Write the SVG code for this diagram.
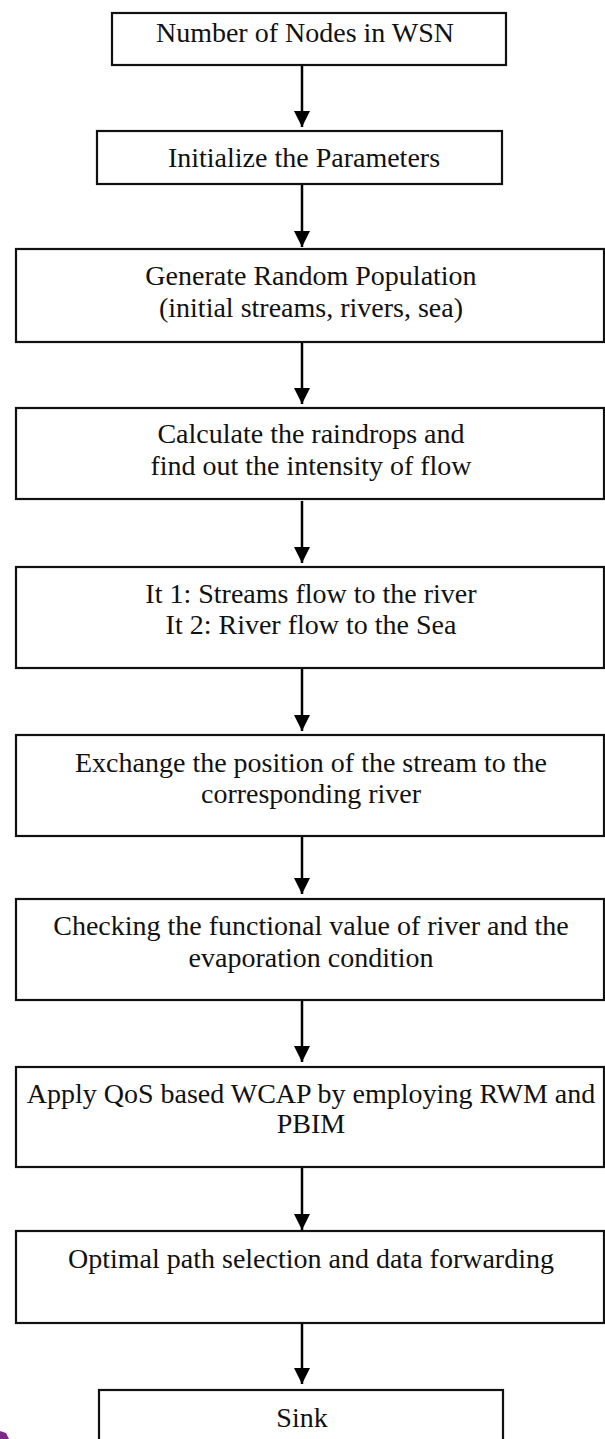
<svg xmlns="http://www.w3.org/2000/svg" width="605" height="1439" viewBox="0 0 605 1439">
<style>
.box{fill:#fff;stroke:#111;stroke-width:2.2}
.t{font-family:"Liberation Serif","Times New Roman",serif;font-size:28px;fill:#111;text-anchor:middle}
.c{stroke:#000;stroke-width:2.5;fill:none}
</style>
<defs>
<marker id="ah" markerUnits="userSpaceOnUse" markerWidth="16" markerHeight="16" viewBox="0 0 16 16" refX="16" refY="8" orient="auto">
<path d="M0,0 L16,8 L0,16 Z" fill="#000"/>
</marker>
</defs>
<rect width="605" height="1439" fill="#fff"/>
<g id="connectors">
<line class="c" x1="302" y1="65" x2="302" y2="127" marker-end="url(#ah)"/>
<line class="c" x1="302" y1="184" x2="302" y2="247" marker-end="url(#ah)"/>
<line class="c" x1="302" y1="342" x2="302" y2="404" marker-end="url(#ah)"/>
<line class="c" x1="302" y1="501" x2="302" y2="563" marker-end="url(#ah)"/>
<line class="c" x1="302" y1="669" x2="302" y2="731" marker-end="url(#ah)"/>
<line class="c" x1="302" y1="834" x2="302" y2="894" marker-end="url(#ah)"/>
<line class="c" x1="302" y1="1000" x2="302" y2="1062" marker-end="url(#ah)"/>
<line class="c" x1="302" y1="1167" x2="302" y2="1230" marker-end="url(#ah)"/>
<line class="c" x1="302" y1="1323" x2="302" y2="1384" marker-end="url(#ah)"/>
</g>
<g id="n1"><rect class="box" x="112" y="13" width="394" height="52"/><text class="t" x="305" y="42">Number of Nodes in WSN</text></g>
<g id="n2"><rect class="box" x="97" y="131" width="405" height="53"/><text class="t" x="304" y="167">Initialize the Parameters</text></g>
<g id="n3"><rect class="box" x="16" y="249" width="588" height="93"/><text class="t" x="311" y="285">Generate Random Population</text><text class="t" x="311" y="317">(initial streams, rivers, sea)</text></g>
<g id="n4"><rect class="box" x="16" y="408" width="588" height="91"/><text class="t" x="311" y="443">Calculate the raindrops and</text><text class="t" x="311" y="475">find out the intensity of flow</text></g>
<g id="n5"><rect class="box" x="16" y="567" width="588" height="101"/><text class="t" x="311" y="603">It 1: Streams flow to the river</text><text class="t" x="311" y="634">It 2: River flow to the Sea</text></g>
<g id="n6"><rect class="box" x="16" y="735" width="588" height="101"/><text class="t" x="311" y="772">Exchange the position of the stream to the</text><text class="t" x="311" y="803">corresponding river</text></g>
<g id="n7"><rect class="box" x="16" y="899" width="588" height="101"/><text class="t" x="311" y="935">Checking the functional value of river and the</text><text class="t" x="311" y="967">evaporation condition</text></g>
<g id="n8"><rect class="box" x="16" y="1067" width="588" height="100"/><text class="t" x="311" y="1103">Apply QoS based WCAP by employing RWM and</text><text class="t" x="311" y="1133">PBIM</text></g>
<g id="n9"><rect class="box" x="16" y="1231" width="588" height="92"/><text class="t" x="311" y="1268">Optimal path selection and data forwarding</text></g>
<g id="n10"><rect class="box" x="99" y="1390" width="404" height="70"/><text class="t" x="302" y="1427">Sink</text></g>
<path d="M0,1431 L6,1433 L9,1439 L0,1439 Z" fill="#7a2a86"/>
</svg>
